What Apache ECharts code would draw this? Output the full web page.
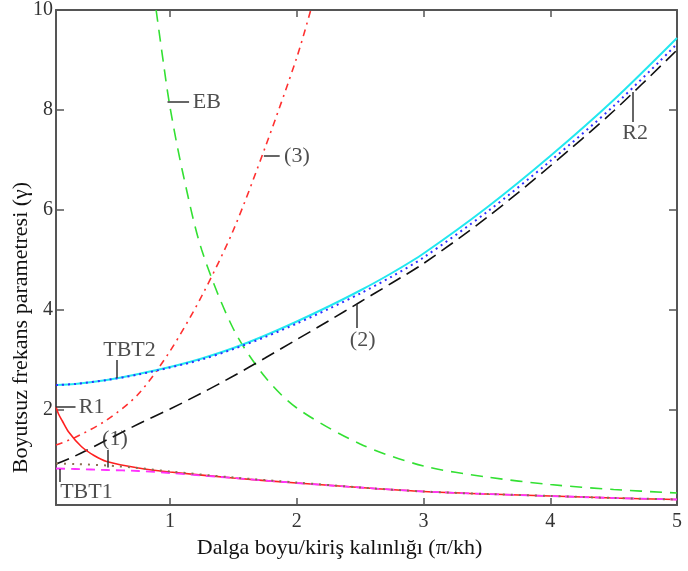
<!DOCTYPE html>
<html>
<head>
<meta charset="utf-8">
<script src="https://cdn.jsdelivr.net/npm/echarts@6/dist/echarts.min.js"></script>
<style>
  html, body { margin: 0; padding: 0; background: #fff; }
  #chart { width: 688px; height: 571px; }
</style>
</head>
<body>
<div id="chart"></div>
<script>
// values
var tbt2X = [0.1, 0.25, 0.5, 0.75, 1.0, 1.25, 1.5, 1.75, 2.0, 2.25, 2.5, 2.75, 3.0, 3.5, 4.0, 4.5, 5.0]
var tbt2Y = [2.5, 2.52, 2.6, 2.72, 2.86, 3.03, 3.24, 3.49, 3.77, 4.07, 4.39, 4.74, 5.13, 6.05, 7.08, 8.2, 9.44]
var r2Y = [2.5, 2.52, 2.6, 2.71, 2.85, 3.01, 3.22, 3.46, 3.73, 4.02, 4.33, 4.67, 5.05, 5.96, 6.98, 8.08, 9.32]
var mode2Y = [0.92, 1.08, 1.4, 1.72, 2.02, 2.34, 2.68, 3.04, 3.41, 3.78, 4.16, 4.54, 4.93, 5.85, 6.88, 7.98, 9.2]

var mode3X = [0.1, 0.25, 0.5, 0.75, 1.0, 1.25, 1.5, 1.75, 2.0, 2.11]
var mode3Y = [1.3, 1.45, 1.8, 2.32, 3.18, 4.28, 5.6, 7.25, 9.05, 10.0]

var ebX = [0.89, 0.95, 1.0, 1.1, 1.25, 1.5, 1.75, 2.0, 2.5, 3.0, 3.5, 4.0, 4.5, 5.0]
var ebY = [10.0, 8.9, 8.05, 6.75, 5.2, 3.62, 2.66, 2.04, 1.32, 0.88, 0.66, 0.51, 0.41, 0.34]

var r1X = [0.1, 0.12, 0.15, 0.2, 0.3, 0.4, 0.5, 0.75, 1.0, 1.5, 2.0, 2.5, 3.0, 3.5, 4.0, 4.5, 5.0]
var r1Y = [2.06, 1.92, 1.78, 1.56, 1.27, 1.09, 0.97, 0.84, 0.76, 0.64, 0.54, 0.45, 0.37, 0.32, 0.28, 0.24, 0.21]

var lowX = [0.1, 0.25, 0.5, 0.75, 1.0, 1.5, 2.0, 2.5, 3.0, 3.5, 4.0, 4.5, 5.0]
var tbt1Y = [0.83, 0.82, 0.8, 0.78, 0.74, 0.64, 0.54, 0.45, 0.37, 0.32, 0.28, 0.24, 0.21]
var mode1Y = [0.93, 0.92, 0.89, 0.84, 0.77, 0.65, 0.55, 0.45, 0.37, 0.32, 0.28, 0.24, 0.21]

var xTicks = [1, 2, 3, 4, 5]
var yTicks = [2, 4, 6, 8, 10]

// annotation text and pointer lines (data units)
var notes = [
  { text: 'EB', at: [1.18, 8.16], align: 'left', from: [0.98, 8.16], to: [1.15, 8.16] },
  { text: '(3)', at: [1.9, 7.08], align: 'left', from: [1.74, 7.08], to: [1.865, 7.08] },
  { text: 'TBT2', at: [0.68, 3.2], align: 'center', from: [0.58, 2.64], to: [0.58, 3.0] },
  { text: 'R1', at: [0.28, 2.06], align: 'left', from: [0.1, 2.06], to: [0.254, 2.06] },
  { text: '(1)', at: [0.565, 1.42], align: 'center', from: [0.51, 0.85], to: [0.51, 1.2] },
  { text: 'TBT1', at: [0.34, 0.35], align: 'center', from: [0.127, 0.82], to: [0.127, 0.56] },
  { text: '(2)', at: [2.52, 3.4], align: 'center', from: [2.47, 4.12], to: [2.47, 3.64] },
  { text: 'R2', at: [4.67, 7.54], align: 'center', from: [4.65, 8.36], to: [4.65, 7.76] }
]

function zip(xs, ys) {
  return xs.map(function(x, i) { return [x, ys[i]] })
}

var serif = 'Liberation Serif'
var axisColor = '#555'

function curve(name, xs, ys, color, dash, width) {
  return {
    name: name,
    type: 'line',
    data: zip(xs, ys),
    smooth: 0.3,
    showSymbol: false,
    lineStyle: { color: color, width: width || 1.6, type: dash }
  }
}

var chart = echarts.init(document.getElementById('chart'))

chart.setOption({
  animation: false,
  grid: { left: 56, right: 11, top: 10, bottom: 66, containLabel: false, outerBoundsMode: 'none' },
  xAxis: [{
    type: 'value',
    min: 0.1,
    max: 5,
    position: 'bottom',
    name: 'Dalga boyu/kiriş kalınlığı (π/kh)',
    nameLocation: 'middle',
    nameGap: 27,
    nameTextStyle: { fontFamily: serif, fontSize: 22, color: '#111', padding: [0, 54, 0, 0] },
    axisLine: { show: true, lineStyle: { color: axisColor, width: 2 } },
    axisTick: { show: true, inside: true, length: 7, customValues: xTicks, lineStyle: { color: axisColor, width: 1.5 } },
    axisLabel: { customValues: xTicks, fontFamily: serif, fontSize: 20, color: '#333', margin: 7 },
    splitLine: { show: false }
  }, {
    type: 'value',
    min: 0.1,
    max: 5,
    position: 'top',
    axisLine: { show: true, lineStyle: { color: axisColor, width: 2 } },
    axisTick: { show: true, inside: true, length: 7, customValues: xTicks, lineStyle: { color: axisColor, width: 1.5 } },
    axisLabel: { show: false },
    splitLine: { show: false }
  }],
  yAxis: [{
    type: 'value',
    min: 0.1,
    max: 10,
    position: 'left',
    name: 'Boyutsuz frekans parametresi (γ)',
    nameLocation: 'middle',
    nameGap: 24,
    nameMoveOverlap: false,
    nameTextStyle: { fontFamily: serif, fontSize: 22, color: '#111', padding: [0, 140, 0, 0] },
    axisLine: { show: true, lineStyle: { color: axisColor, width: 2 } },
    axisTick: { show: true, inside: true, length: 8, customValues: yTicks, lineStyle: { color: axisColor, width: 1.5 } },
    axisLabel: { customValues: yTicks, fontFamily: serif, fontSize: 20, color: '#333', margin: 3 },
    splitLine: { show: false }
  }, {
    type: 'value',
    min: 0.1,
    max: 10,
    position: 'right',
    axisLine: { show: true, lineStyle: { color: axisColor, width: 2 } },
    axisTick: { show: true, inside: true, length: 8, customValues: yTicks, lineStyle: { color: axisColor, width: 1.5 } },
    axisLabel: { show: false },
    splitLine: { show: false }
  }],
  series: [
    curve('EB', ebX, ebY, '#33e033', [12, 8]),
    curve('(3)', mode3X, mode3Y, '#ff3030', [7, 5, 2, 5]),
    curve('(2)', tbt2X, mode2Y, '#111111', [14, 7]),
    curve('TBT2', tbt2X, tbt2Y, '#22e8f0', 'solid', 2),
    curve('R2', tbt2X, r2Y, '#3030ff', [2, 4], 2),
    curve('R1', r1X, r1Y, '#ff2020', 'solid', 1.6),
    curve('TBT1', lowX, tbt1Y, '#ff33ff', [9, 6], 1.8),
    curve('(1)', lowX, mode1Y, '#8b7050', [2, 6], 2),
    {
      name: 'notes',
      type: 'scatter',
      symbolSize: 0,
      silent: true,
      z: 10,
      data: notes.map(function(n) {
        return {
          value: n.at,
          label: {
            show: true,
            position: 'inside',
            formatter: n.text,
            align: n.align,
            verticalAlign: 'middle',
            fontFamily: serif,
            fontSize: 22,
            color: '#222'
          }
        }
      }),
      markLine: {
        silent: true,
        symbol: ['none', 'none'],
        label: { show: false },
        lineStyle: { color: '#333', width: 1.5, type: 'solid' },
        data: notes.map(function(n) {
          return [{ coord: n.from }, { coord: n.to }]
        })
      }
    }
  ]
})
</script>
</body>
</html>
